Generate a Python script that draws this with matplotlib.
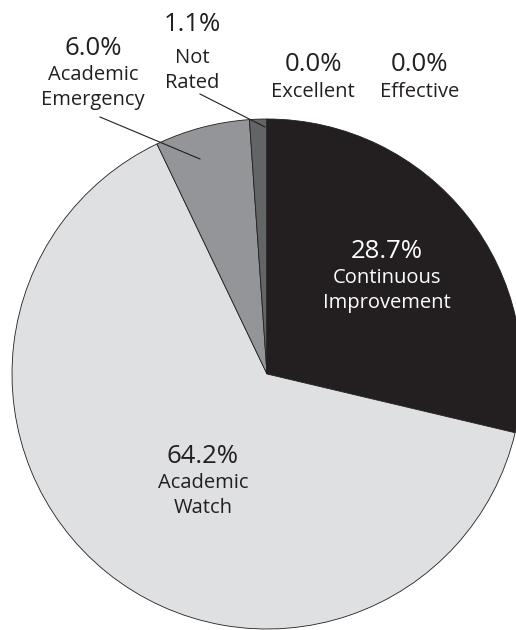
import matplotlib
matplotlib.use("Agg")
import matplotlib.pyplot as plt

plt.rcParams["font.family"] = ["Open Sans", "DejaVu Sans"]

# rating categories, clockwise from 12 o'clock
categories = ["Continuous\nImprovement", "Academic\nWatch", "Academic\nEmergency",
              "Not\nRated", "Excellent", "Effective"]
shares = [28.7, 64.2, 6.0, 1.1, 0.0, 0.0]
colors = ["#231f20", "#dfe0e2", "#939598", "#636466", "#231f20", "#231f20"]

W, H = 516, 630
CX, CY, R = 267, 374, 255  # pie centre/radius in image pixels

# label anchor (x, baseline of % line, baseline of first name line) in image px
label_pos = [(387, 258, 283), (203, 463, 488), (93, 55, 80),
             (192, 31, 63), (313, 71, 97), (420, 71, 97)]
text_col = ["white", "#231f20", "#231f20", "#231f20", "#231f20", "#231f20"]

fig = plt.figure(figsize=(W / 100, H / 100), dpi=100)
ax = fig.add_axes([0, 0, 1, 1])

ax.pie(shares, colors=colors, startangle=90, counterclock=False,
       center=(CX, H - CY), radius=R,
       wedgeprops=dict(edgecolor="#231f20", linewidth=0.6))
ax.set_xlim(0, W)
ax.set_ylim(0, H)
ax.set_aspect("equal")
ax.axis("off")

for name, val, (x, yp, yn), c in zip(categories, shares, label_pos, text_col):
    ax.text(x, H - yp, f"{val:.1f}%", ha="center", va="baseline",
            fontsize=18.5, color=c)
    for i, line in enumerate(name.split("\n")):
        ax.text(x, H - (yn + 25 * i), line, ha="center", va="baseline",
                fontsize=14.5, color=c)

# leader lines for the narrow slices
ax.plot([100, 200], [H - 117, H - 159], color="#231f20", lw=0.8)
ax.plot([200, 265], [H - 94, H - 127], color="#231f20", lw=0.8)

fig.savefig("out.png", dpi=100)
